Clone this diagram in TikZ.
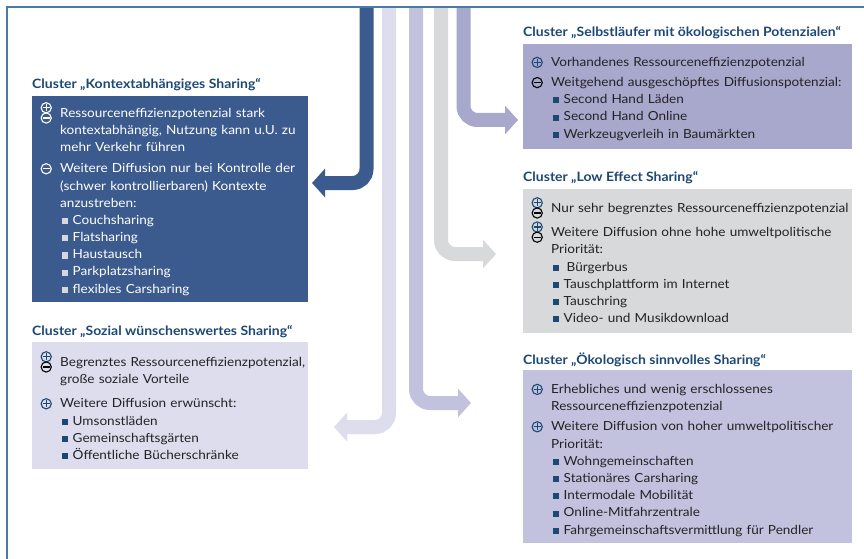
\documentclass[tikz,border=0pt]{standalone}
\usepackage{fontspec}
\setmainfont{Lato}[FakeStretch=1.085]
\usetikzlibrary{arrows.meta,calc}
\definecolor{frameblue}{RGB}{74,122,168}
\definecolor{darkbox}{RGB}{59,90,141}
\definecolor{titleblue}{RGB}{28,72,118}
\definecolor{lightlav}{RGB}{222,221,237}
\definecolor{midlav}{RGB}{195,194,222}
\definecolor{greylav}{RGB}{167,168,203}
\definecolor{lightgrey}{RGB}{216,217,218}
\definecolor{bodytext}{RGB}{35,35,38}
\definecolor{bulletlight}{RGB}{215,215,222}
\colorlet{pl}{titleblue}\colorlet{mi}{black}\colorlet{bul}{titleblue}
% circled plus / minus drawn as small graphics: colour, centre height above baseline, 1 = plus
\newcommand\circsym[3]{\tikz[baseline=0pt,x=1pt,y=1pt]{\useasboundingbox (0,0) rectangle (12,0);
  \draw[#1,line width=1.1pt] (6,#2) circle [radius=5.1pt];
  \draw[#1,line width=1.1pt] (2.4,#2) -- (9.6,#2);
  \ifnum#3=1 \draw[#1,line width=1.1pt] (6,#2-3.6) -- (6,#2+3.6);\fi}}
\newcommand\cp{\circsym{pl}{4}{1}}
\newcommand\cm{\circsym{mi}{4}{0}}
\newcommand\cpm{\circsym{pl}{9.6}{1}\hspace*{-12pt}\circsym{mi}{-0.6}{0}}
\newcommand\mainitem[2]{\par\noindent\hangindent=20pt\hangafter=1\strut\makebox[20pt][l]{#1}#2}
\newcommand\bulitem[1]{\par\noindent\strut\hspace*{21.5pt}\makebox[11pt][l]{\textcolor{bul}{\rule[0.3pt]{6pt}{6pt}}}#1}
\tikzset{
  boxshape/.style={anchor=north west, inner sep=0pt, outer sep=0pt},
  textblock/.style={anchor=north west, inner sep=0pt, text width=330pt, align=left,
    font=\fontsize{12.5}{17.2}\selectfont},
  clustertitle/.style={anchor=west, inner sep=0pt, text=titleblue,
    font=\bfseries\fontsize{12.9}{14}\selectfont},
  flow/.style={line width=14pt, rounded corners=14pt, -{Triangle[length=13pt,width=28pt]}},
}
\begin{document}
\begin{tikzpicture}[x=1pt,y=-1pt]
\useasboundingbox (0,0) rectangle (864,559);
\fill[white] (0,0) rectangle (864,559);
% boxes
\node[boxshape, fill=darkbox, minimum width=276pt, minimum height=206pt] (b1) at (32,96) {};
\node[boxshape, fill=lightlav, minimum width=276pt, minimum height=127pt] (b2) at (32,342) {};
\node[boxshape, fill=greylav, minimum width=329pt, minimum height=105pt] (b3) at (523,44) {};
\node[boxshape, fill=lightgrey, minimum width=329pt, minimum height=144pt] (b4) at (523,189) {};
\node[boxshape, fill=midlav, minimum width=329pt, minimum height=173pt] (b5) at (523,370) {};
% titles
\node[clustertitle] (h1) at (32,85) {Cluster „Kontextabhängiges Sharing“};
\node[clustertitle] (h2) at (32,332) {Cluster „Sozial wünschenswertes Sharing“};
\node[clustertitle] (h3) at (523,33) {Cluster „Selbstläufer mit ökologischen Potenzialen“};
\node[clustertitle] (h4) at (523,178) {Cluster „Low Effect Sharing“};
\node[clustertitle] (h5) at (523,360) {Cluster „Ökologisch sinnvolles Sharing“};
% texts
\node[textblock, text=white] (t1) at (40,100) {\colorlet{pl}{white}\colorlet{mi}{white}\colorlet{bul}{bulletlight}%
\mainitem{\cpm}{Ressourceneffizienzpotenzial stark\newline kontextabhängig, Nutzung kann u.U. zu\newline mehr Verkehr führen}
\par\vspace{3.8pt}
\mainitem{\cm}{Weitere Diffusion nur bei Kontrolle der\newline (schwer kontrollierbaren) Kontexte\newline anzustreben:}
\bulitem{Couchsharing}
\bulitem{Flatsharing}
\bulitem{Haustausch}
\bulitem{Parkplatzsharing}
\bulitem{flexibles Carsharing}};
\node[textblock, text=bodytext] (t2) at (40,349) {%
\mainitem{\cpm}{Begrenztes Ressourceneffizienzpotenzial,\newline große soziale Vorteile}
\par\vspace{7pt}
\mainitem{\cp}{Weitere Diffusion erwünscht:}
\bulitem{Umsonstläden}
\bulitem{Gemeinschaftsgärten}
\bulitem{Öffentliche Bücherschränke}};
\node[textblock, text=bodytext] (t3) at (531,49) {%
\mainitem{\cp}{Vorhandenes Ressourceneffizienzpotenzial}
\par\vspace{3pt}
\mainitem{\cm}{Weitgehend ausgeschöpftes Diffusionspotenzial:}
\bulitem{Second Hand Läden}
\bulitem{Second Hand Online}
\bulitem{Werkzeugverleih in Baumärkten}};
\node[textblock, text=bodytext] (t4) at (531,195) {%
\mainitem{\cpm}{Nur sehr begrenztes Ressourceneffizienzpotenzial}
\par\vspace{7pt}
\mainitem{\cpm}{Weitere Diffusion ohne hohe umweltpolitische\newline Priorität:}
\bulitem{\hspace{3pt}Bürgerbus}
\bulitem{Tauschplattform im Internet}
\bulitem{Tauschring}
\bulitem{Video- und Musikdownload}};
\node[textblock, text=bodytext] (t5) at (531,376) {%
\mainitem{\cp}{Erhebliches und wenig erschlossenes\newline Ressourceneffizienzpotenzial}
\par\vspace{3pt}
\mainitem{\cp}{Weitere Diffusion von hoher umweltpolitischer\newline Priorität:}
\bulitem{Wohngemeinschaften}
\bulitem{Stationäres Carsharing}
\bulitem{Intermodale Mobilität}
\bulitem{Online-Mitfahrzentrale}
\bulitem{Fahrgemeinschaftsvermittlung für Pendler}};
% arrows
\coordinate (s1) at (366.5,7); \coordinate (e1) at ($(b1.east |- 0,183)+(4,0)$);
\coordinate (s2) at (389,7);   \coordinate (e2) at (334,427);
\coordinate (s3) at (416,7);   \coordinate (e3) at (471,403);
\coordinate (s4) at (441,7);   \coordinate (e4) at (496,254);
\coordinate (s5) at (463.5,7); \coordinate (e5) at ($(b3.west |- 0,120)+(-5,0)$);
\draw[flow, darkbox] (s1) |- (e1);
\draw[flow, lightlav] (s2) |- (e2);
\draw[flow, midlav] (s3) |- (e3);
\draw[flow, lightgrey] (s4) |- (e4);
\draw[flow, greylav] (s5) |- (e5);
% frame
\draw[frameblue, line width=1.8pt] (864,7.3) -- (6.8,7.3) -- (6.8,559);
\end{tikzpicture}
\end{document}
